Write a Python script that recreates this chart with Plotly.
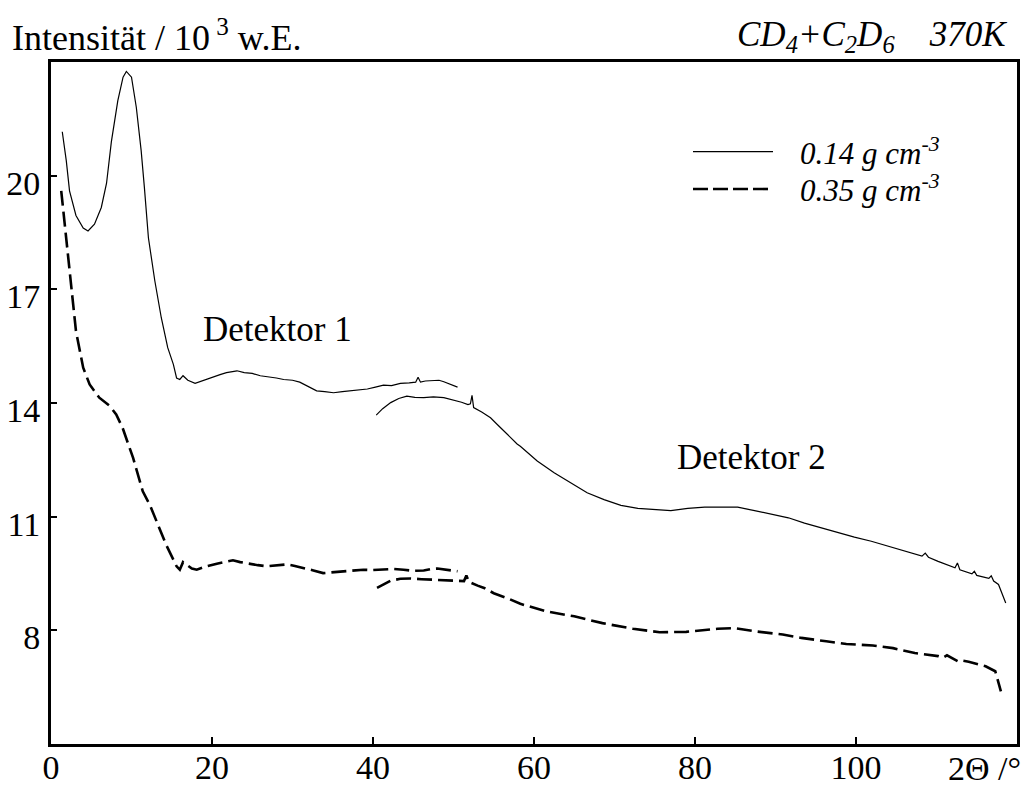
import plotly.graph_objects as go

# ---------------- data ----------------
# 0.14 g cm^-3, Detektor 1
s1_x = [1.4, 1.9, 2.3, 3.1, 4.0, 4.6, 5.4, 6.25, 6.9, 7.5, 8.3, 8.95, 9.36, 10.0, 10.6,
        11.2, 11.6, 12.1, 12.9, 13.7, 14.5, 15.2, 15.6, 16.0, 16.4, 17.0, 17.9, 18.9,
        20.1, 21.0, 21.8, 23.1, 24.0, 25.0, 26.0, 27.0, 28.0, 28.9, 30.0, 30.9, 32.0,
        33.0, 34.0, 35.1, 36.2, 37.2, 38.3, 39.3, 40.3, 41.3, 42.3, 43.4, 44.5, 45.3,
        45.6, 45.9, 46.5, 47.5, 48.2, 48.8, 49.6, 50.5]
s1_y = [21.16, 20.39, 19.6, 18.95, 18.62, 18.54, 18.72, 19.16, 19.8, 20.9, 21.98, 22.6,
        22.75, 22.6, 21.8, 20.66, 19.69, 18.36, 17.22, 16.25, 15.46, 15.02, 14.66, 14.62,
        14.72, 14.6, 14.52, 14.6, 14.68, 14.75, 14.8, 14.85, 14.8, 14.78, 14.72, 14.7,
        14.66, 14.62, 14.6, 14.55, 14.42, 14.32, 14.3, 14.27, 14.3, 14.32, 14.34, 14.37,
        14.42, 14.47, 14.46, 14.52, 14.53, 14.55, 14.68, 14.55, 14.58, 14.6, 14.6, 14.56,
        14.5, 14.42]
# 0.14 g cm^-3, Detektor 2
s2_x = [40.4, 41.2, 42.2, 43.2, 44.2, 45.2, 46.3, 47.5, 48.8, 50.0, 51.0, 51.8, 52.1,
        52.3, 52.5, 53.5, 54.6, 55.5, 56.5, 57.9, 58.3, 60.4, 62.5, 64.6, 66.6, 68.7,
        70.8, 72.9, 74.9, 77.0, 79.1, 81.2, 83.3, 85.3, 87.4, 89.5, 91.6, 93.6, 95.7,
        97.8, 99.8, 101.9, 104.0, 106.1, 108.2, 108.6, 109.0, 110.2, 112.3, 112.6,
        112.9, 114.4, 114.7, 115.0, 116.5, 116.8, 117.1, 117.7, 118.6]
s2_y = [13.68, 13.85, 14.01, 14.12, 14.18, 14.15, 14.14, 14.16, 14.14, 14.08, 14.02,
        13.96, 13.98, 14.2, 13.88, 13.76, 13.61, 13.42, 13.2, 12.92, 12.86, 12.47, 12.16,
        11.89, 11.63, 11.45, 11.3, 11.22, 11.19, 11.16, 11.22, 11.25, 11.25, 11.25,
        11.16, 11.07, 10.97, 10.83, 10.7, 10.57, 10.46, 10.35, 10.22, 10.09, 9.96, 10.04,
        9.93, 9.82, 9.65, 9.78, 9.6, 9.49, 9.56, 9.45, 9.37, 9.44, 9.3, 9.21, 8.72]
# 0.35 g cm^-3, Detektor 1
d1_x = [1.27, 1.9, 2.5, 3.1, 4.0, 4.8, 6.0, 7.3, 8.1, 8.9, 10.2, 11.4, 12.3, 13.1, 14.3,
        15.6, 16.0, 16.4, 17.0, 17.5, 18.1, 19.3, 20.6, 21.8, 22.6, 23.5, 24.7, 25.7,
        26.8, 28.0, 29.3, 30.3, 31.4, 32.6, 33.8, 34.8, 35.9, 37.3, 38.8, 40.0, 41.3,
        42.5, 43.8, 45.0, 46.3, 47.2, 48.0, 49.2, 50.5]
d1_y = [19.6, 18.36, 17.04, 15.9, 14.93, 14.49, 14.14, 13.92, 13.7, 13.34, 12.55, 11.67,
        11.3, 10.88, 10.26, 9.69, 9.6, 9.8, 9.7, 9.63, 9.6, 9.69, 9.76, 9.82, 9.85, 9.8,
        9.75, 9.72, 9.69, 9.72, 9.74, 9.7, 9.65, 9.58, 9.51, 9.53, 9.56, 9.58, 9.6, 9.59,
        9.6, 9.62, 9.6, 9.57, 9.58, 9.62, 9.63, 9.6, 9.56]
# 0.35 g cm^-3, Detektor 2
d2_x = [40.5, 41.3, 42.2, 43.4, 44.6, 46.0, 47.5, 49.0, 50.5, 51.3, 51.6, 51.9, 53.0,
        53.8, 55.0, 55.8, 57.0, 58.3, 61.5, 65.0, 68.5, 72.3, 75.6, 78.9, 82.8, 84.9,
        87.6, 90.9, 93.2, 96.3, 98.8, 102.1, 104.6, 107.3, 110.2, 110.8, 111.3, 112.7,
        113.2, 114.0, 115.2, 116.1, 117.3, 117.7, 118.0]
d2_y = [9.12, 9.22, 9.31, 9.36, 9.37, 9.35, 9.34, 9.33, 9.31, 9.3, 9.45, 9.28, 9.18,
        9.12, 8.98, 8.92, 8.82, 8.7, 8.5, 8.37, 8.19, 8.04, 7.95, 7.96, 8.04, 8.06, 7.97,
        7.89, 7.8, 7.71, 7.64, 7.6, 7.53, 7.4, 7.32, 7.28, 7.34, 7.18, 7.2, 7.17, 7.09,
        7.05, 6.92, 6.65, 6.39]

x_ticks = [0, 20, 40, 60, 80, 100]
y_ticks = [8, 11, 14, 17, 20]
legend_labels = ["0.14 g cm<sup>-3</sup>", "0.35 g cm<sup>-3</sup>"]

FONT = "Liberation Serif"
SOLID = dict(color="black", width=1.2)
DASH = dict(color="black", width=2.6, dash="15px,6px")

fig = go.Figure()
fig.add_trace(go.Scatter(x=s1_x, y=s1_y, mode="lines", line=SOLID, showlegend=False))
fig.add_trace(go.Scatter(x=s2_x, y=s2_y, mode="lines", line=SOLID, showlegend=False))
fig.add_trace(go.Scatter(x=d1_x, y=d1_y, mode="lines", line=DASH, showlegend=False))
fig.add_trace(go.Scatter(x=d2_x, y=d2_y, mode="lines", line=DASH, showlegend=False))
# invisible helper trace so the label axis (xaxis2) is active
fig.add_trace(go.Scatter(x=[0, 120], y=[5, 5], xaxis="x2", mode="lines",
                         line=dict(width=0), hoverinfo="skip", showlegend=False))

# plot area in pixels
L, R, T, B = 51, 1017, 62, 744
W, H = R - L, B - T


def px(x):
    return (x - L) / W


def py(y):
    return (B - y) / H


# legend (drawn manually)
fig.add_shape(type="line", xref="paper", yref="paper", x0=px(693), x1=px(773),
              y0=py(151.7), y1=py(151.7), line=dict(color="black", width=1.3))
fig.add_shape(type="line", xref="paper", yref="paper", x0=px(693), x1=px(773),
              y0=py(189), y1=py(189), line=dict(color="black", width=2.6, dash="15px,5px"))
for lab, yy in zip(legend_labels, [151.7, 189]):
    fig.add_annotation(xref="paper", yref="paper", x=px(798), y=py(yy), text="<i>" + lab + "</i>",
                       showarrow=False, xanchor="left", yanchor="middle",
                       font=dict(family=FONT, size=31, color="black"))

# titles / labels
fig.add_annotation(xref="paper", yref="paper", x=px(10), y=py(35),
                   text="Intensität / 10<sup> 3</sup> w.E.", showarrow=False,
                   xanchor="left", yanchor="middle", font=dict(family=FONT, size=36, color="black"))
fig.add_annotation(xref="paper", yref="paper", x=px(1009), y=py(36),
                   text="<i>CD<sub>4</sub>+C<sub>2</sub>D<sub>6</sub>\u00a0\u00a0\u00a0\u00a0370K</i>",
                   showarrow=False, xanchor="right", yanchor="middle",
                   font=dict(family=FONT, size=35, color="black"))
fig.add_annotation(xref="paper", yref="paper", x=px(984), y=py(768),
                   text="2Θ /°", showarrow=False, xanchor="center", yanchor="middle",
                   font=dict(family=FONT, size=34, color="black"))
fig.add_annotation(x=28.1, y=15.95, text="Detektor 1", showarrow=False,
                   font=dict(family=FONT, size=35, color="black"))
fig.add_annotation(x=87.0, y=12.57, text="Detektor 2", showarrow=False,
                   font=dict(family=FONT, size=35, color="black"))

fig.update_layout(
    width=1026, height=787,
    margin=dict(l=L, r=1026 - R, t=T, b=787 - B, pad=0, autoexpand=False),
    paper_bgcolor="white", plot_bgcolor="white",
    font=dict(family=FONT, size=34, color="black"),
    showlegend=False,
    xaxis=dict(range=[0, 120], tickvals=x_ticks, ticks="inside", ticklen=7, tickwidth=1.5,
               tickcolor="black", showline=True, linecolor="black", linewidth=3, mirror=True,
               showgrid=False, zeroline=False, showticklabels=False, automargin=False),
    # label-only axis sharing the x scale
    xaxis2=dict(matches="x", overlaying="x", anchor="free", position=0, side="bottom",
                tickvals=x_ticks, ticks="", showline=False, showgrid=False, zeroline=False,
                automargin=False, ticklabelstandoff=0,
                tickfont=dict(family=FONT, size=34, color="black")),
    yaxis=dict(range=[5, 23], tickvals=y_ticks, ticks="inside", ticklen=6, tickwidth=1.5,
               tickcolor="black", showline=True, linecolor="black", linewidth=3, mirror=True,
               showgrid=False, zeroline=False, ticklabelshift=7, automargin=False,
               ticklabelstandoff=1, tickfont=dict(family=FONT, size=34, color="black")),
)

fig.write_html("out.html")
